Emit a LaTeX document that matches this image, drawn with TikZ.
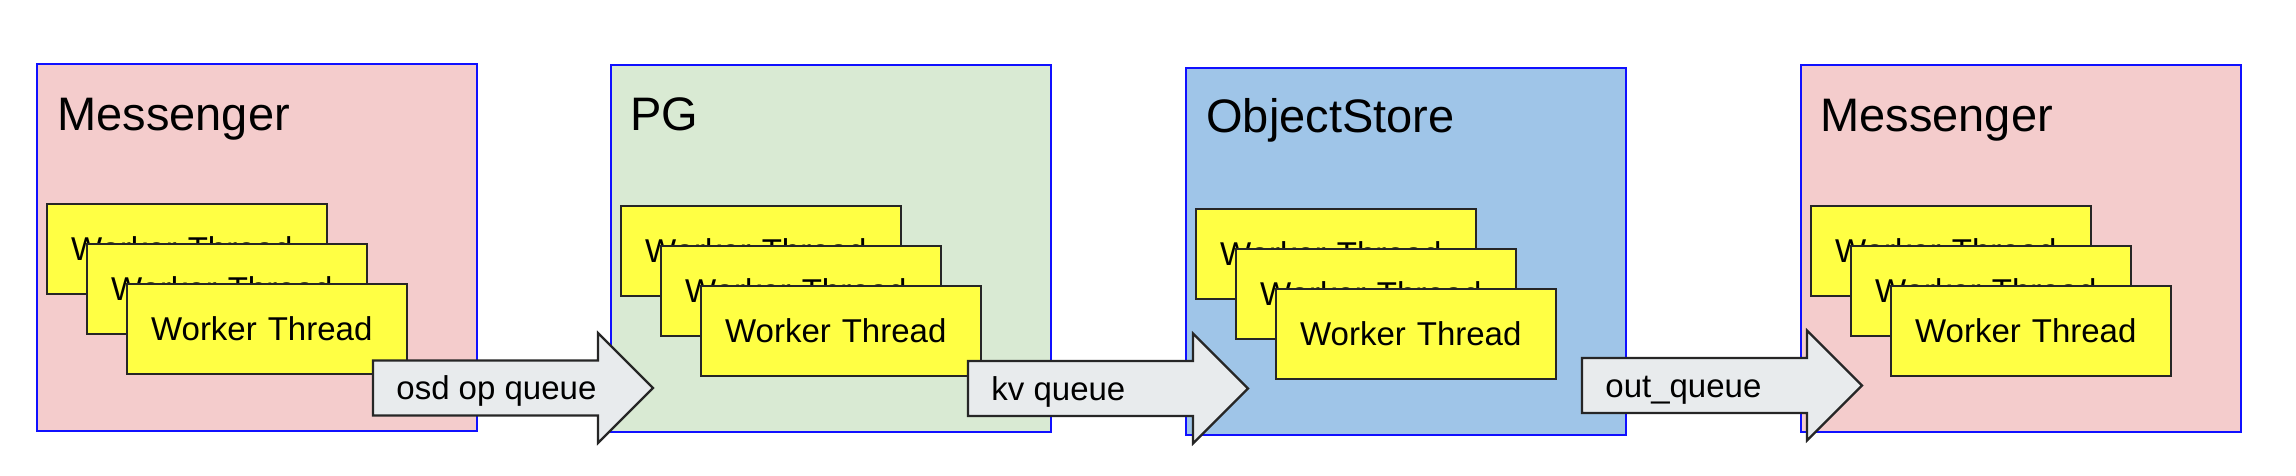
\documentclass[tikz,border=0pt]{standalone}
\usepackage{fontspec}
\setmainfont{Liberation Sans}
\usetikzlibrary{calc}
\definecolor{bordblue}{HTML}{1010FF}
\definecolor{msgpink}{HTML}{F4CCCC}
\definecolor{pggreen}{HTML}{D9EAD3}
\definecolor{osblue}{HTML}{9FC5E8}
\definecolor{wtyellow}{HTML}{FFFF44}
\definecolor{outl}{HTML}{262626}
\definecolor{qgray}{HTML}{E8EBED}
\tikzset{
  container/.style={draw=bordblue, line width=1.2pt, anchor=north west, inner sep=0pt,
    minimum width=220pt, minimum height=183.5pt},
  ctitle/.style={anchor=base west, inner sep=0pt, font=\fontsize{23.5}{27}\selectfont},
  worker/.style={draw=outl, fill=wtyellow, line width=1.1pt, anchor=north west,
    minimum width=140pt, minimum height=45pt, inner ysep=0pt, inner xsep=12pt,
    text width=116pt, align=left, font=\fontsize{16.5}{20}\selectfont},
  qarrow/.style={draw=outl, fill=qgray, line width=1.1pt, line join=miter},
  qlabel/.style={anchor=base west, inner sep=0pt, font=\fontsize{16.5}{20}\selectfont}
}
\begin{document}
\begin{tikzpicture}[x=0.5pt,y=-0.5pt]
\useasboundingbox (0,0) rectangle (2296,476);
% containers
\node[container, fill=msgpink] (m1) at (36,63) {};
\node[container, fill=pggreen] (pg) at (610,64) {};
\node[container, fill=osblue] (os) at (1185,67) {};
\node[container, fill=msgpink] (m2) at (1800,64) {};
% titles
\node[ctitle] (m1t) at (57,131) {Messenger};
\node[ctitle] (pgt) at (630,131) {PG};
\node[ctitle] (ost) at (1206,133) {ObjectStore};
\node[ctitle] (m2t) at (1820,132) {Messenger};
% worker threads
\node[worker] (m1a) at (46,203) {Worker Thread};
\node[worker] (m1b) at (86,243) {Worker Thread};
\node[worker] (m1c) at (126,283) {Worker Thread};
\node[worker] (pga) at (620,205) {Worker Thread};
\node[worker] (pgb) at (660,245) {Worker Thread};
\node[worker] (pgc) at (700,285) {Worker Thread};
\node[worker] (osa) at (1195,208) {Worker Thread};
\node[worker] (osb) at (1235,248) {Worker Thread};
\node[worker] (osc) at (1275,288) {Worker Thread};
\node[worker] (m2a) at (1810,205) {Worker Thread};
\node[worker] (m2b) at (1850,245) {Worker Thread};
\node[worker] (m2c) at (1890,285) {Worker Thread};
% queue arrows
\coordinate (q1) at (373,388);
\coordinate (q2) at (968,388.5);
\coordinate (q3) at (1582,385.5);
\foreach \q in {q1,q2,q3}{
  \draw[qarrow] (\q) ++(0,-27.5) -- ++(225,0) -- ++(0,-27.5) -- ++(55,55)
    -- ++(-55,55) -- ++(0,-27.5) -- ++(-225,0) -- cycle;
}
\node[qlabel] (q1t) at ($(q1)+(23,11.5)$) {osd op queue};
\node[qlabel] (q2t) at ($(q2)+(23,11.5)$) {kv queue};
\node[qlabel] (q3t) at ($(q3)+(23,11.5)$) {out\_queue};
\end{tikzpicture}
\end{document}
